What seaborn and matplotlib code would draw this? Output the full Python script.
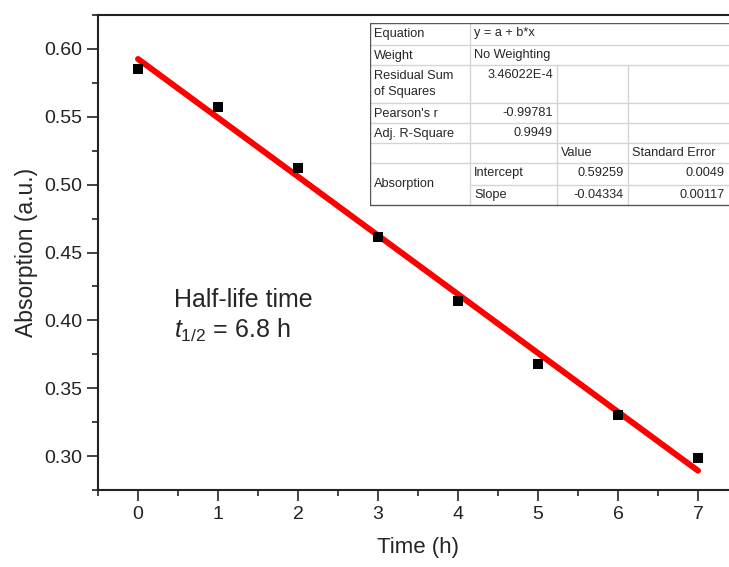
import numpy as np
import pandas as pd
import matplotlib
matplotlib.use("Agg")
import matplotlib.pyplot as plt
from matplotlib.ticker import MultipleLocator
import seaborn as sns

# ---- data ----
time_h = [0, 1, 2, 3, 4, 5, 6, 7]
absorption = [0.5855, 0.5574, 0.5125, 0.4612, 0.4140, 0.3676, 0.3301, 0.2985]
fit_intercept = 0.59259
fit_slope = -0.04334
x_ticks = [0, 1, 2, 3, 4, 5, 6, 7]
y_ticks = [0.30, 0.35, 0.40, 0.45, 0.50, 0.55, 0.60]

table_rows = [
    ["Equation", "y = a + b*x"],
    ["Weight", "No Weighting"],
    ["Residual Sum\nof Squares", "3.46022E-4"],
    ["Pearson's r", "-0.99781"],
    ["Adj. R-Square", "0.9949"],
]
param_header = ["Value", "Standard Error"]
param_group = "Absorption"
param_names = ["Intercept", "Slope"]
param_values = ["0.59259", "-0.04334"]
param_errors = ["0.0049", "0.00117"]

sns.set_style("ticks")
plt.rcParams["font.family"] = ["Liberation Sans", "DejaVu Sans"]
plt.rcParams["mathtext.fontset"] = "custom"
plt.rcParams["mathtext.rm"] = "Liberation Sans"
plt.rcParams["mathtext.it"] = "Liberation Sans:italic"

df = pd.DataFrame({"Time (h)": time_h, "Absorption": absorption})
fit_x = [time_h[0], time_h[-1]]
fit_df = pd.DataFrame({"x": fit_x, "y": [fit_intercept + fit_slope * v for v in fit_x]})

W, H = 729, 567
fig = plt.figure(figsize=(W / 100, H / 100), dpi=100)
ax = fig.add_axes([98 / W, 1 - 490 / H, 640 / W, 475 / H])

sns.lineplot(data=fit_df, x="x", y="y", color="#ff0000", lw=4.3, ax=ax,
             solid_capstyle="round", zorder=2)
sns.scatterplot(data=df, x="Time (h)", y="Absorption", marker="s", s=60,
                color="black", edgecolor="black", linewidth=0, ax=ax, zorder=3)

ax.set_xlim(-0.5, 7.5)
ax.set_ylim(0.275, 0.625)
ax.set_xticks(x_ticks)
ax.set_yticks(y_ticks)
ax.set_yticklabels([f"{v:.2f}" for v in y_ticks])
ax.xaxis.set_minor_locator(MultipleLocator(0.5))
ax.yaxis.set_minor_locator(MultipleLocator(0.025))
ax.tick_params(which="major", direction="out", length=8, width=1.2, labelsize=14, colors="#222222")
ax.tick_params(which="minor", direction="out", length=4, width=1.2, colors="#222222")
for s in ax.spines.values():
    s.set_linewidth(1.5)
    s.set_color("#222222")
ax.set_xlabel("Time (h)", fontsize=16, labelpad=10)
ax.set_ylabel("Absorption (a.u.)", fontsize=16.5, labelpad=4)

ax.text(0.45, 0.415, "Half-life time", fontsize=18, va="center", ha="left")
ax.text(0.45, 0.3925, r"$\mathit{t}_{\mathrm{1/2}}$ = 6.8 h", fontsize=18, va="center", ha="left")

# ---- table (pixel coordinates in its own axes) ----
tx0, tx1, ty0, ty1 = 370, 740, 23, 207
tax = fig.add_axes([tx0 / W, 1 - ty1 / H, (tx1 - tx0) / W, (ty1 - ty0) / H])
tax.set_xlim(tx0, tx1)
tax.set_ylim(ty1, ty0)
tax.axis("off")
tax.add_patch(plt.Rectangle((tx0, ty0), tx1 - tx0, ty1 - ty0, facecolor="white",
                            edgecolor="none", zorder=0))
light = "#d4d4d4"
c1, c2, c3 = 470, 557, 628
rows_y = [23, 45, 65, 103, 123, 143, 163, 185, 205]
for y in rows_y[1:-1]:
    xs = c1 if y == 185 else tx0
    tax.plot([xs, tx1], [y, y], color=light, lw=1)
tax.plot([c1, c1], [ty0, 205], color=light, lw=1)
for c in (c2, c3):
    tax.plot([c, c], [65, 205], color=light, lw=1)
border = "#555555"
tax.plot([tx0, tx1], [ty0, ty0], color=border, lw=1)
tax.plot([tx0, tx1], [205, 205], color=border, lw=1)
tax.plot([tx0, tx0], [ty0, 205], color=border, lw=1)

fs = 9.2
lab_x, val_x, num_r = 374, 474, 553
for i, (lab, val) in enumerate(table_rows):
    ytop = rows_y[i] + 4
    tax.text(lab_x, ytop + 1, lab, fontsize=fs, va="top", ha="left", linespacing=1.4)
    if i < 2:
        tax.text(val_x, ytop, val, fontsize=fs, va="top", ha="left")
    else:
        tax.text(num_r, ytop, val, fontsize=fs, va="top", ha="right")
tax.text(c2 + 4, 147, param_header[0], fontsize=fs, va="top", ha="left")
tax.text(c3 + 4, 147, param_header[1], fontsize=fs, va="top", ha="left")
tax.text(lab_x, 184, param_group, fontsize=fs, va="center", ha="left")
for j, (nm, v, e) in enumerate(zip(param_names, param_values, param_errors)):
    ytop = rows_y[6 + j] + 4
    tax.text(val_x, ytop, nm, fontsize=fs, va="top", ha="left")
    tax.text(c3 - 4, ytop, v, fontsize=fs, va="top", ha="right")
    tax.text(725, ytop, e, fontsize=fs, va="top", ha="right")

fig.savefig("out.png", dpi=100)
